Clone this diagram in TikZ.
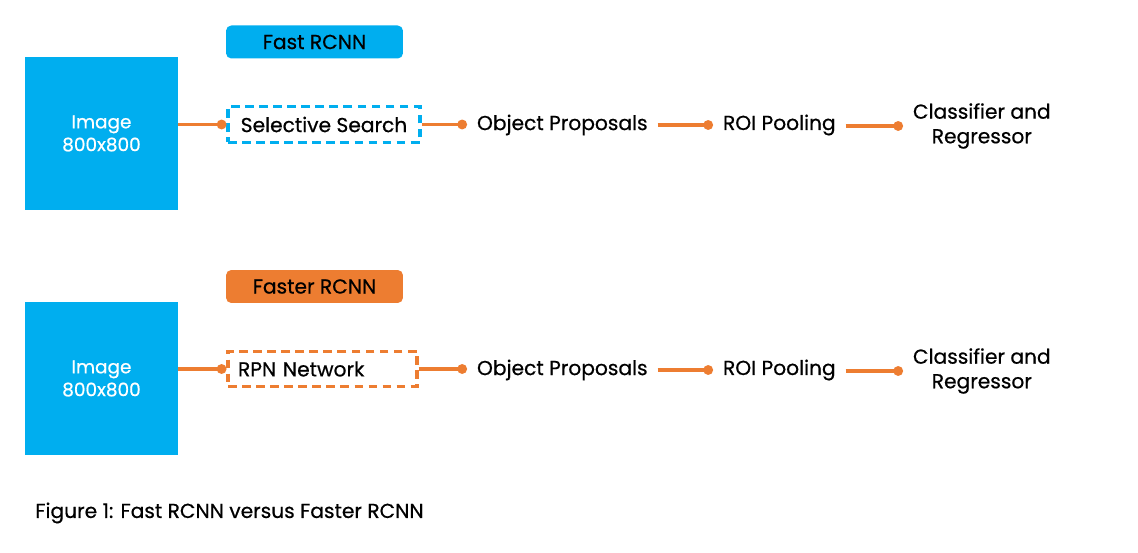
\documentclass[tikz,border=0pt]{standalone}
\usepackage{fontspec}
\setmainfont{Poppins}[FakeBold=0.6]
\usetikzlibrary{arrows.meta}
\definecolor{rcnnblue}{RGB}{0,174,239}
\definecolor{rcnnorange}{RGB}{237,125,49}
\tikzset{
    imgbox/.style={fill=rcnnblue, minimum width=3.06cm, minimum height=3.06cm,
        text=white, align=center, font=\fontsize{10.5}{13}\selectfont},
    tagbox/.style={rounded corners=3pt, minimum width=3.54cm, minimum height=0.66cm,
        font=\fontsize{11.5}{13}\selectfont},
    dashbox/.style={draw, line width=1.8pt, dash pattern=on 5pt off 3pt,
        minimum height=0.71cm, font=\fontsize{11.5}{13}\selectfont},
    stage/.style={inner xsep=5.5pt, align=center, font=\fontsize{11.5}{14}\selectfont},
    link/.style={rcnnorange, line width=1.8pt, -{Circle[length=5.5pt]}},
}
\begin{document}
\begin{tikzpicture}[x=0.02cm, y=-0.02cm]
    \useasboundingbox (0,0) rectangle (1138,553);

    % Fast RCNN
    \node[tagbox, fill=rcnnblue] (fasttag) at (314.5,42) {Fast RCNN};
    \node[imgbox] (img1) at (101.5,133.5) {Image\\800x800};
    \node[dashbox, draw=rcnnblue, minimum width=3.84cm] (ss) at (324,124.5) {Selective Search};
    \node[stage, anchor=west] (prop1) at (467,125) {Object Proposals};
    \node[stage, anchor=west] (roi1) at (713,125) {ROI Pooling};
    \node[stage, anchor=west] (cls1) at (903,126) {Classifier and\\Regressor};

    \draw[link] (img1.east |- ss.west) -- (ss.west);
    \draw[link] (ss.east) -- (ss.east -| prop1.west);
    \draw[link] (prop1.east) -- (roi1.west);
    \draw[link] (roi1.east |- cls1.west) -- (cls1.west);

    % Faster RCNN
    \node[tagbox, fill=rcnnorange] (fastertag) at (314.5,286.5) {Faster RCNN};
    \node[imgbox] (img2) at (101.5,378.5) {Image\\800x800};
    \node[dashbox, draw=rcnnorange, text width=3.38cm, inner xsep=0.2cm, align=left] (rpn) at (322.5,369) {RPN Network};
    \node[stage, anchor=west] (prop2) at (467,370) {Object Proposals};
    \node[stage, anchor=west] (roi2) at (713,370) {ROI Pooling};
    \node[stage, anchor=west] (cls2) at (903,371) {Classifier and\\Regressor};

    \draw[link] (img2.east |- rpn.west) -- (rpn.west);
    \draw[link] (rpn.east) -- (rpn.east -| prop2.west);
    \draw[link] (prop2.east) -- (roi2.west);
    \draw[link] (roi2.east |- cls2.west) -- (cls2.west);

    \node[anchor=west, inner sep=0pt, font=\fontsize{11.5}{14}\selectfont] (caption) at (35,513) {Figure 1: Fast RCNN versus Faster RCNN};
\end{tikzpicture}
\end{document}
